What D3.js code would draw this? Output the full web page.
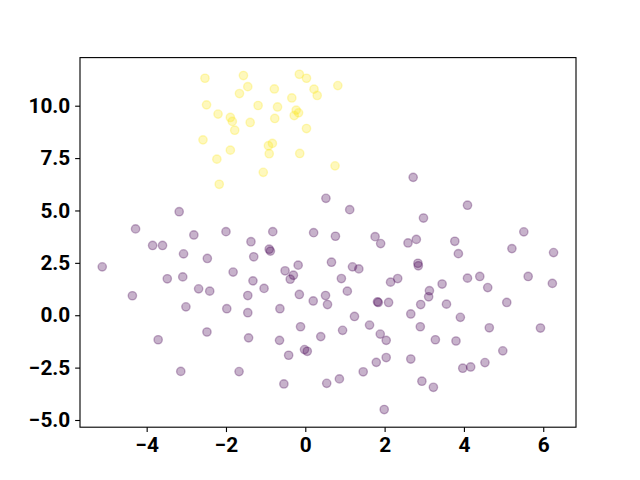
<!DOCTYPE html>
<html><head><meta charset="utf-8">
<script src="https://cdn.jsdelivr.net/npm/d3@7/dist/d3.min.js"></script>
<style>body{margin:0;background:#fff}svg{display:block}text{font-family:Roboto,"DejaVu Sans",sans-serif;font-weight:bold}</style>
</head><body>
<script>
const yellowX = [-2.53,-1.56,-1.45,-1.66,-2.49,-2.20,-1.89,-1.84,-1.39,-1.78,-2.58,-1.89,-2.23,-2.17,
  -0.15,0.03,-0.78,0.22,0.30,0.82,-0.34,-1.19,-0.70,-0.23,-0.17,-0.28,-0.77,0.03,-0.83,-0.93,-0.91,-0.14,0.75,-1.06];
const yellowY = [11.31,11.44,10.91,10.58,10.04,9.60,9.44,9.25,9.20,8.83,8.37,7.88,7.45,6.25,
  11.50,11.31,10.80,10.79,10.49,10.96,10.37,10.01,9.94,9.79,9.66,9.53,9.39,8.91,8.20,8.09,7.71,7.72,7.13,6.82];
const purpleX = [-3.18,-4.28,-2.81,-2.00,-3.85,-3.60,-1.37,-3.07,-2.47,-5.12,-1.82,-3.48,-3.09,-2.69,-2.41,-4.36,-3.01,-1.98,-2.48,-3.71,-3.14,-1.67,
  0.52,1.12,2.72,-0.82,0.21,0.76,1.76,1.90,2.59,2.80,-0.91,-0.88,-1.30,-0.18,0.66,-0.51,-0.30,-0.38,1.19,1.35,-1.32,-1.04,-1.45,-0.15,0.91,1.06,2.15,2.33,
  0.51,0.56,0.20,1.82,1.84,2.10,-1.45,-0.64,2.66,1.24,-0.12,0.94,1.62,0.39,1.89,2.04,-1.43,-0.65,-0.42,-0.02,0.05,1.79,2.04,2.66,1.46,0.86,0.54,-0.54,1.99,
  3.77,3.86,5.21,6.26,4.09,2.98,5.51,2.84,2.85,3.45,4.09,4.40,4.60,5.62,6.23,3.13,3.11,2.91,3.56,5.08,3.91,2.90,4.64,5.93,3.28,3.80,4.98,4.53,3.97,4.17,2.94,3.23];
const purpleY = [4.94,4.12,3.83,3.99,3.33,3.33,3.51,2.93,2.71,2.31,2.06,1.74,1.83,1.26,1.15,0.93,0.40,0.31,-0.80,-1.17,-2.68,-2.69,
  5.58,5.04,6.58,3.99,3.94,3.77,3.75,3.42,3.45,3.62,3.15,3.06,2.79,2.39,2.53,2.12,1.91,1.72,2.31,2.21,1.64,1.28,0.94,0.99,1.75,1.15,1.58,1.75,
  0.94,0.51,0.68,0.64,0.61,0.61,0.12,0.31,0.06,-0.06,-0.55,-0.72,-0.47,-1.02,-0.90,-1.20,-1.08,-1.20,-1.91,-1.64,-1.72,-2.25,-2.02,-2.09,-2.70,-3.04,-3.25,-3.28,-4.50,
  3.53,2.94,3.18,2.99,5.25,4.64,3.98,2.48,2.36,1.49,1.77,1.85,1.32,1.85,1.52,1.17,0.88,0.51,0.53,0.61,-0.10,-0.55,-0.60,-0.61,-1.17,-1.23,-1.70,-2.26,-2.53,-2.47,-3.15,-3.44];
const xTicks = [-4,-2,0,2,4,6];
const yTicks = [-5,-2.5,0,2.5,5,7.5,10];

const W=640,H=480, L=80, R=576, T=57.6, B=427.2;
const svg = d3.select("body").append("svg").attr("width",W).attr("height",H);
const x = d3.scaleLinear().domain([-5.681,6.826]).range([L,R]);
const y = d3.scaleLinear().domain([-5.344,12.296]).range([B,T]);

const pts = purpleX.map((v,i)=>({x:v,y:purpleY[i],c:"#440154"}))
  .concat(yellowX.map((v,i)=>({x:v,y:yellowY[i],c:"#fde725"})));
svg.append("g").selectAll("circle").data(pts).join("circle")
  .attr("cx",d=>x(d.x)).attr("cy",d=>y(d.y)).attr("r",4.17)
  .attr("fill",d=>d.c).attr("fill-opacity",0.3)
  .attr("stroke",d=>d.c).attr("stroke-opacity",0.3).attr("stroke-width",1.39);

const fmtY = v => (v<0?"\u2212":"")+Math.abs(v).toFixed(1);
const fmtX = v => (v<0?"\u2212":"")+Math.abs(v);
const xa = d3.axisBottom(x).tickValues(xTicks).tickFormat(fmtX).tickSize(4.86).tickPadding(4.86);
const ya = d3.axisLeft(y).tickValues(yTicks).tickFormat(fmtY).tickSize(4.86).tickPadding(4.86);
const gx = svg.append("g").attr("transform",`translate(0,${B})`).call(xa);
const gy = svg.append("g").attr("transform",`translate(${L},0)`).call(ya);
[gx,gy].forEach(g=>{
  g.select(".domain").remove();
  g.selectAll(".tick line").attr("stroke","#000").attr("stroke-width",1.11);
  g.selectAll(".tick text").attr("fill","#000").style("font-size","20.8px").style("font-family","Roboto, 'DejaVu Sans', sans-serif").style("font-weight","bold");
});
svg.append("rect").attr("x",L).attr("y",T).attr("width",R-L).attr("height",B-T)
  .attr("fill","none").attr("stroke","#000").attr("stroke-width",1.11);
</script>
</body></html>
